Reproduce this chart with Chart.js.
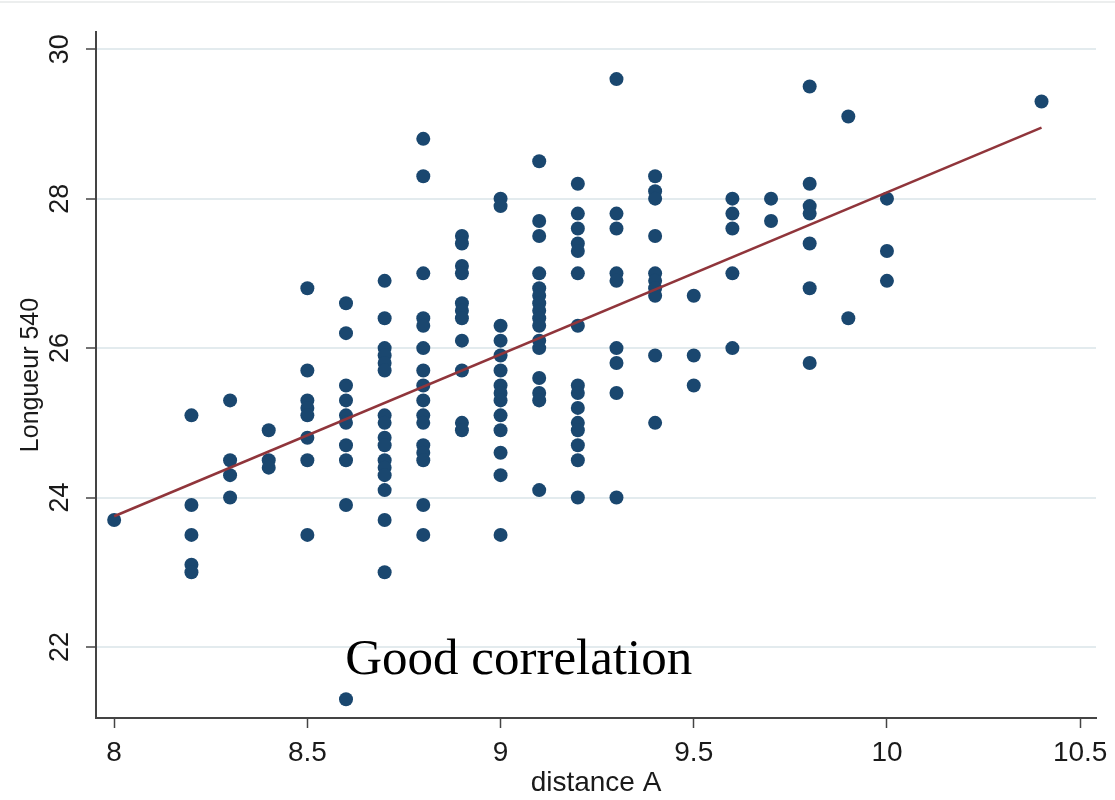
<!DOCTYPE html>
<html>
<head>
<meta charset="utf-8">
<script src="https://cdn.jsdelivr.net/npm/chart.js@4"></script>
<style>
  html, body { margin: 0; padding: 0; background: #fff; }
  #wrap { position: relative; width: 1115px; height: 800px; }
  #topline { position: absolute; left: 0; top: 1px; width: 1115px; height: 2px; background: #eceeee; }
</style>
</head>
<body>
<div id="wrap">
  <canvas id="scatterChart" width="1115" height="800"></canvas>
  <div id="topline"></div>
</div>
<script>
// distance A (x) values, one per column of points
const distA = [8.0, 8.2, 8.3, 8.4, 8.5, 8.6, 8.7, 8.8, 8.9, 9.0, 9.1, 9.2, 9.3, 9.4, 9.5, 9.6, 9.7, 9.8, 9.9, 10.0, 10.4];

// Longueur 540 readings for each column above
const longueur = [
  [23.7],
  [25.1, 23.9, 23.5, 23.1, 23.0],
  [25.3, 24.5, 24.3, 24.0],
  [24.9, 24.5, 24.4],
  [26.8, 25.7, 25.3, 25.2, 25.1, 24.8, 24.5, 23.5],
  [26.6, 26.2, 25.5, 25.3, 25.1, 25.0, 24.7, 24.5, 23.9, 21.3],
  [26.9, 26.4, 26.0, 25.9, 25.8, 25.7, 25.1, 25.0, 24.8, 24.7, 24.5, 24.4, 24.3, 24.1, 23.7, 23.0],
  [28.8, 28.3, 27.0, 26.4, 26.3, 26.0, 25.7, 25.5, 25.3, 25.1, 25.0, 24.7, 24.6, 24.5, 23.9, 23.5],
  [27.5, 27.4, 27.1, 27.0, 26.6, 26.5, 26.4, 26.1, 25.7, 25.0, 24.9],
  [28.0, 27.9, 26.3, 26.1, 25.9, 25.7, 25.5, 25.4, 25.3, 25.1, 24.9, 24.6, 24.3, 23.5],
  [28.5, 27.7, 27.5, 27.0, 26.8, 26.7, 26.6, 26.5, 26.4, 26.3, 26.1, 26.0, 25.6, 25.4, 25.3, 24.1],
  [28.2, 27.8, 27.6, 27.4, 27.3, 27.0, 26.3, 25.5, 25.4, 25.2, 25.0, 24.9, 24.7, 24.5, 24.0],
  [29.6, 27.8, 27.6, 27.0, 26.9, 26.0, 25.8, 25.4, 24.0],
  [28.3, 28.1, 28.0, 27.5, 27.0, 26.9, 26.8, 26.7, 25.9, 25.0],
  [26.7, 25.9, 25.5],
  [28.0, 27.8, 27.6, 27.0, 26.0],
  [28.0, 27.7],
  [29.5, 28.2, 27.9, 27.8, 27.4, 26.8, 25.8],
  [29.1, 26.4],
  [28.0, 27.3, 26.9],
  [29.3]
];

// fitted line, end points
const fitX = [8.0, 10.4];
const fitY = [23.75, 28.95];

const xTicks = [8, 8.5, 9, 9.5, 10, 10.5];
const yTicks = [22, 24, 26, 28, 30];

const note = 'Good correlation';
const noteAt = { x: 8.598, y: 21.64 };

const points = [];
distA.forEach((x, i) => longueur[i].forEach(y => points.push({ x: x, y: y })));
const fitLine = fitX.map((x, i) => ({ x: x, y: fitY[i] }));

const sansFont = "'Liberation Sans', Arial, sans-serif";

const notePlugin = {
  id: 'note',
  afterDatasetsDraw(chart) {
    const ctx = chart.ctx;
    const px = chart.scales.x.getPixelForValue(noteAt.x);
    const py = chart.scales.y.getPixelForValue(noteAt.y);
    ctx.save();
    ctx.font = "51px 'Liberation Serif', 'Times New Roman', serif";
    ctx.fillStyle = '#000';
    ctx.textAlign = 'left';
    ctx.textBaseline = 'alphabetic';
    ctx.fillText(note, px, py);
    ctx.restore();
  }
};

new Chart(document.getElementById('scatterChart'), {
  type: 'scatter',
  data: {
    datasets: [{
      data: points,
      backgroundColor: '#1a476f',
      borderColor: '#1a476f',
      borderWidth: 0,
      pointRadius: 7,
      order: 1
    }, {
      type: 'line',
      data: fitLine,
      borderColor: '#90353b',
      borderWidth: 2.5,
      pointRadius: 0,
      fill: false,
      order: 0
    }]
  },
  options: {
    responsive: false,
    animation: false,
    events: [],
    layout: { padding: { left: 0, right: 19, top: 32, bottom: 0 } },
    plugins: { legend: { display: false }, tooltip: { enabled: false } },
    scales: {
      x: {
        type: 'linear',
        min: 7.953,
        max: 10.541,
        afterBuildTicks: s => { s.ticks = xTicks.map(v => ({ value: v })); },
        afterFit: s => { s.height = 82; s.paddingLeft = 0; s.paddingRight = 0; },
        grid: { drawOnChartArea: false, drawTicks: true, tickLength: 10, tickColor: '#444', tickWidth: 1.5 },
        border: { display: true, color: '#444', width: 2 },
        ticks: {
          padding: 8,
          color: '#1a1a1a',
          font: { family: sansFont, size: 28 },
          maxRotation: 0,
          autoSkip: false,
          callback: v => String(v)
        },
        title: {
          display: true,
          text: 'distance A',
          color: '#1a1a1a',
          font: { family: sansFont, size: 28 },
          padding: { top: 0, bottom: 0 }
        }
      },
      y: {
        type: 'linear',
        min: 21.05,
        max: 30.23,
        afterBuildTicks: s => { s.ticks = yTicks.map(v => ({ value: v })); },
        afterFit: s => { s.width = 96; s.paddingTop = 0; s.paddingBottom = 0; },
        grid: { color: '#e3ebee', lineWidth: 2, drawTicks: true, tickLength: 10, tickColor: '#444', tickWidth: 1.5 },
        border: { display: true, color: '#444', width: 2 },
        ticks: {
          padding: 10,
          color: '#1a1a1a',
          font: { family: sansFont, size: 27 },
          minRotation: 90,
          maxRotation: 90,
          crossAlign: 'center',
          autoSkip: false,
          callback: v => String(v)
        },
        title: {
          display: true,
          text: 'Longueur 540',
          color: '#1a1a1a',
          font: { family: sansFont, size: 25 },
          padding: { top: 16, bottom: 0 }
        }
      }
    }
  },
  plugins: [notePlugin]
});
</script>
</body>
</html>
